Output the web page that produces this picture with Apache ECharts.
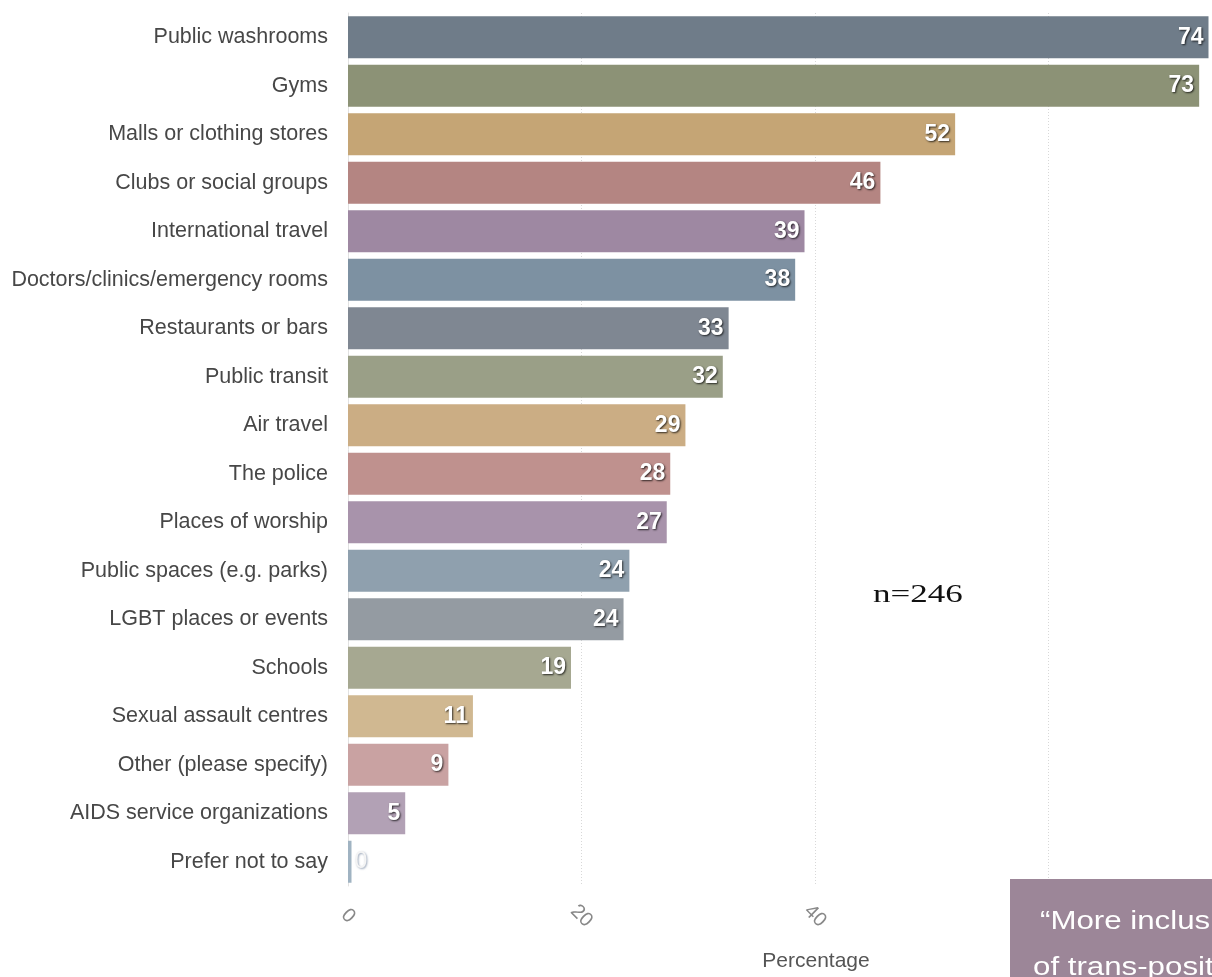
<!DOCTYPE html>
<html>
<head>
<meta charset="utf-8">
<script src="https://cdn.jsdelivr.net/npm/echarts@6/dist/echarts.min.js"></script>
<style>
html,body{margin:0;padding:0;background:#fff;}
#chart{width:1212px;height:977px;}
</style>
</head>
<body>
<div id="chart"></div>
<script>
const categories = [
  'Public washrooms','Gyms','Malls or clothing stores','Clubs or social groups',
  'International travel','Doctors/clinics/emergency rooms','Restaurants or bars',
  'Public transit','Air travel','The police','Places of worship',
  'Public spaces (e.g. parks)','LGBT places or events','Schools',
  'Sexual assault centres','Other (please specify)','AIDS service organizations',
  'Prefer not to say'
];
const values = [73.7, 72.9, 52.0, 45.6, 39.1, 38.3, 32.6, 32.1, 28.9, 27.6, 27.3, 24.1, 23.6, 19.1, 10.7, 8.6, 4.9, 0.3];
const valueLabels = ['74','73','52','46','39','38','33','32','29','28','27','24','24','19','11','9','5','0'];
const barColors = [
  '#6f7c89','#8c9276','#c5a575','#b48582','#9e88a2','#7d91a2',
  '#7f8792','#9a9f87','#cbad84','#bf918e','#a893ab','#8fa0ae',
  '#949ba2','#a6a891','#d0b891','#c9a2a2','#b2a1b5','#a0b3c2'
];
const xTicks = [0, 20, 40, 60];
const noteText = 'n=246';
const quoteLines = ['\u201CMore inclusive', 'of trans-positive'];

const chart = echarts.init(document.getElementById('chart'), null, {renderer: 'canvas'});

const data = values.map((v, i) => {
  const item = {
    value: v,
    itemStyle: {color: barColors[i]},
    label: {formatter: valueLabels[i]}
  };
  if (v < 2) {
    item.label.position = 'right';
    item.label.distance = 3;
    item.label.color = '#f4f4f4';
    item.label.textShadowColor = 'rgba(90,110,140,0.6)';
    item.label.fontWeight = 'normal';
  }
  return item;
});

chart.setOption({
  animation: false,
  grid: {left: 348, right: 0, top: 13, bottom: 88, containLabel: false},
  xAxis: {
    type: 'value',
    min: xTicks[0],
    max: 74,
    interval: xTicks[1] - xTicks[0],
    name: 'Percentage',
    nameLocation: 'middle',
    nameGap: 65,
    nameTextStyle: {color: '#555', fontSize: 21, fontFamily: 'Liberation Sans, Arial, sans-serif', padding: [0, 0, 0, 72]},
    axisLine: {show: false},
    axisTick: {show: false},
    axisLabel: {
      rotate: -45,
      align: 'center',
      verticalAlign: 'middle',
      margin: 30,
      color: '#888',
      fontSize: 20,
      fontFamily: 'Liberation Sans, Arial, sans-serif',
      showMaxLabel: false
    },
    splitLine: {show: true, lineStyle: {color: '#d8d8d8', type: [1, 2], width: 1}}
  },
  yAxis: {
    type: 'category',
    data: categories,
    inverse: true,
    axisLine: {show: true, lineStyle: {color: '#e2e2e2', width: 1}},
    axisTick: {show: false},
    axisLabel: {
      color: '#474747',
      fontSize: 21.5,
      margin: 20,
      fontFamily: 'Liberation Sans, Arial, sans-serif'
    }
  },
  series: [{
    type: 'bar',
    data: data,
    barWidth: 42,
    label: {
      show: true,
      position: 'insideRight',
      distance: 5,
      color: '#fff',
      fontSize: 23,
      fontWeight: 'bold',
      fontFamily: 'Liberation Sans, Arial, sans-serif',
      textShadowColor: 'rgba(0,0,0,0.75)',
      textShadowBlur: 2,
      textShadowOffsetX: 1,
      textShadowOffsetY: 1
    }
  }],
  graphic: [
    {
      type: 'text',
      x: 873,
      y: 583,
      scaleX: 1.4,
      z: 10,
      style: {text: noteText, fill: '#111', font: '25px "Liberation Serif", "DejaVu Serif", serif', textVerticalAlign: 'top'}
    },
    {
      type: 'rect',
      x: 1010,
      y: 879,
      z: 20,
      shape: {width: 210, height: 110},
      style: {fill: '#9c8698'}
    },
    {
      type: 'text',
      x: 1040,
      y: 910,
      scaleX: 1.25,
      z: 21,
      style: {text: quoteLines[0], fill: '#fff', font: '25px "Liberation Sans", Arial, sans-serif', textVerticalAlign: 'top'}
    },
    {
      type: 'text',
      x: 1033,
      y: 956,
      scaleX: 1.25,
      z: 21,
      style: {text: quoteLines[1], fill: '#fff', font: '25px "Liberation Sans", Arial, sans-serif', textVerticalAlign: 'top'}
    }
  ]
});
</script>
</body>
</html>
